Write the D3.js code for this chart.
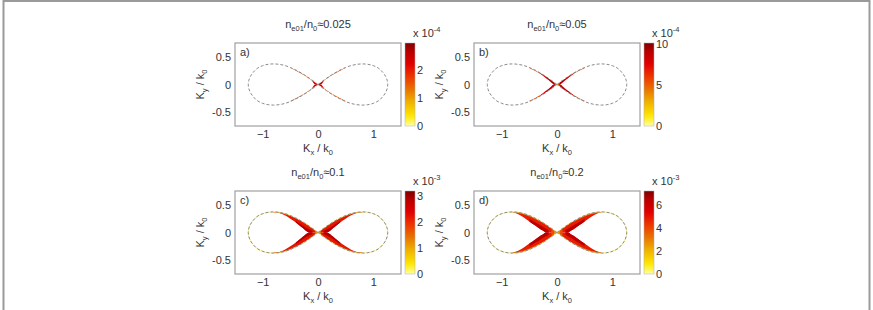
<!DOCTYPE html>
<html>
<head>
<meta charset="utf-8">
<script src="https://cdn.jsdelivr.net/npm/d3@7"></script>
<style>
body { margin: 0; background: #fff; }
svg text { font-family: "Liberation Sans", Arial, sans-serif; fill: #333; }
</style>
</head>
<body>
<svg id="fig" width="873" height="310"></svg>
<script>
// resonance curve, upper right quadrant (Kx/k0, Ky/k0)
var kx = [0, 0.025, 0.05, 0.1, 0.15, 0.2, 0.25, 0.3, 0.4, 0.5, 0.6, 0.7, 0.8, 0.9, 1.0, 1.1, 1.17, 1.22, 1.25, 1.26];
var ky = [0, 0.019, 0.038, 0.075, 0.11, 0.145, 0.177, 0.207, 0.262, 0.308, 0.343, 0.364, 0.372, 0.365, 0.34, 0.29, 0.22, 0.15, 0.075, 0];

var densities = ["0.025", "0.05", "0.1", "0.2"];
var letters = ["a)", "b)", "c)", "d)"];
var cbMax = [2.95, 10.1, 3.2, 7.2];
var cbExp = ["-4", "-4", "-3", "-3"];
var cbTicks = [[0, 1, 2], [0, 5, 10], [0, 1, 2, 3], [0, 2, 4, 6]];
var xTicks = [-1, 0, 1];
var yTicks = [-0.5, 0, 0.5];
// faint value under the dashed curve (null = none)
var rimValue = [null, null, 0.5, 1.2];

// growth-rate patches per panel: [value, lower edge, upper edge (null = curve)], aligned with kx
var heatA = [
  [1.6, [0, 0.007, 0.026, 0.063, 0.098, 0.133, 0.165, 0.195, 0.25, 0.296], null],
  [2.3, [0, 0, 0, 0.055], null],
  [2.7, [0, 0, 0.022], null]
];
var heatB = [
  [5.5, [0, 0.004, 0.023, 0.06, 0.095, 0.13, 0.162, 0.192, 0.247, 0.293], null],
  [7.8, [0, 0, 0, 0.03, 0.075, 0.115, 0.155, 0.193], null],
  [9.2, [0, 0, 0, 0.045, 0.09, 0.132], null],
  [3.5, [0, 0, 0.025], null]
];
var heatC = [
  [2.2, [0, 0, 0, 0, 0, 0.02, 0.06, 0.1, 0.18, 0.25, 0.31, 0.352, 0.368], null],
  [2.9, [null, null, null, 0, 0, 0.02, 0.06, 0.1, 0.18], [null, null, null, 0.03, 0.05, 0.075, 0.105, 0.14, 0.21]],
  [1.4, [null, null, null, null, null, null, null, null, 0.25, 0.296, 0.331, 0.352, 0.362], null],
  [1.3, [0, 0, 0], null],
  [0.6, [0, 0], null]
];
var heatD = [
  [4.8, [0, 0, 0, 0, 0, 0, 0.03, 0.06, 0.13, 0.2, 0.27, 0.33, 0.366], null],
  [6.4, [null, null, null, null, 0, 0, 0.03, 0.06, 0.13, 0.2], [null, null, null, null, 0.04, 0.07, 0.1, 0.13, 0.19, 0.25]],
  [3.2, [null, null, null, null, null, null, null, 0.192, 0.245, 0.29, 0.325, 0.348, 0.36], null],
  [3.8, [0, 0, 0, 0], null],
  [2.5, [0, 0, 0], null],
  [1.5, [0, 0], null]
];
var heat = [heatA, heatB, heatC, heatD];

var svg = d3.select("#fig");
var boxW = 166, boxH = 83;
var origins = [[235, 43], [474, 43], [235, 191], [474, 191]];

var cmap = d3.scaleLinear()
  .domain([0, 0.12, 0.3, 0.45, 0.6, 0.75, 0.9, 1])
  .range(["#ffffa0", "#ffe800", "#eeae00", "#e87000", "#ee3400", "#e00000", "#b80000", "#7e0000"])
  .clamp(true);

var defs = svg.append("defs");
defs.append("filter").attr("id", "soft")
  .attr("x", "-10%").attr("y", "-10%").attr("width", "120%").attr("height", "120%")
  .append("feGaussianBlur").attr("stdDeviation", 0.7);

var grad = defs.append("linearGradient").attr("id", "cbgrad")
  .attr("x1", 0).attr("y1", 1).attr("x2", 0).attr("y2", 0);
d3.range(0, 1.0001, 0.05).forEach(function (t) {
  grad.append("stop").attr("offset", t).attr("stop-color", cmap(t));
});

// outer frame
svg.append("rect").attr("x", 3.5).attr("y", 1).attr("width", 866).attr("height", 320)
  .attr("fill", "none").attr("stroke", "#9a9a9a").attr("stroke-width", 2);

var quads = [[1, 1], [1, -1], [-1, 1], [-1, -1]];

origins.forEach(function (o, p) {
  var x0 = o[0], y0 = o[1];
  var x = d3.scaleLinear().domain([-1.5, 1.5]).range([x0, x0 + boxW]);
  var y = d3.scaleLinear().domain([-0.75, 0.75]).range([y0 + boxH, y0]);
  var cx = x0 + boxW / 2;
  var g = svg.append("g");

  // one lobe: origin -> top arm -> tip -> bottom arm -> origin
  function lobe(sx) {
    var pts = kx.map(function (v, i) { return [sx * v, ky[i]]; });
    var back = kx.map(function (v, i) { return [sx * v, -ky[i]]; }).reverse();
    return pts.concat(back.slice(1));
  }
  var line = d3.line()
    .x(function (d) { return x(d[0]); })
    .y(function (d) { return y(d[1]); })
    .curve(d3.curveCatmullRom);

  var clipId = "clip" + p;
  var clip = defs.append("clipPath").attr("id", clipId);
  [1, -1].forEach(function (sx) {
    clip.append("path").attr("d", line(lobe(sx)) + "Z");
  });

  // heat patches
  var hg = g.append("g").attr("clip-path", "url(#" + clipId + ")")
    .append("g").attr("filter", "url(#soft)");
  heat[p].forEach(function (layer) {
    var val = layer[0], lo = layer[1], hi = layer[2];
    var idx = d3.range(lo.length).filter(function (i) { return lo[i] !== null; });
    quads.forEach(function (q) {
      var area = d3.area()
        .x(function (i) { return x(q[0] * kx[i]); })
        .y0(function (i) { return y(q[1] * lo[i]); })
        .y1(function (i) { return y(q[1] * (hi ? hi[i] : ky[i])); })
        .curve(d3.curveMonotoneX);
      var ordered = q[0] < 0 ? idx.slice().reverse() : idx;
      hg.append("path").attr("d", area(ordered))
        .attr("fill", cmap(val / cbMax[p]));
    });
  });

  // dashed curve
  [1, -1].forEach(function (sx) {
    if (rimValue[p] !== null) {
      g.append("path").attr("d", line(lobe(sx)))
        .attr("fill", "none").attr("stroke", cmap(rimValue[p] / cbMax[p]))
        .attr("stroke-width", 1).attr("opacity", 0.45);
    }
    g.append("path").attr("d", line(lobe(sx)))
      .attr("fill", "none").attr("stroke", "#8a8a8a")
      .attr("stroke-width", 1).attr("stroke-dasharray", "3,2");
  });

  // box
  g.append("rect").attr("x", x0).attr("y", y0).attr("width", boxW).attr("height", boxH)
    .attr("fill", "none").attr("stroke", "#a0a0a0").attr("stroke-width", 1.2);

  // axes
  var ax = g.append("g").attr("transform", "translate(0," + (y0 + boxH) + ")")
    .call(d3.axisBottom(x).tickValues(xTicks).tickSize(0).tickPadding(4).tickFormat(d3.format("d")));
  var ay = g.append("g").attr("transform", "translate(" + x0 + ",0)")
    .call(d3.axisLeft(y).tickValues(yTicks).tickSize(0).tickPadding(4).tickFormat(function (d) { return d === 0 ? "0" : String(d); }));
  [ax, ay].forEach(function (a) {
    a.select(".domain").remove();
    a.selectAll("text").attr("font-size", 11).attr("fill", "#333")
      .attr("font-family", "Liberation Sans, Arial, sans-serif");
  });

  // panel letter
  g.append("text").attr("x", x0 + 5).attr("y", y0 + 13).attr("font-size", 11).text(letters[p]);

  // title
  var t = g.append("text").attr("x", cx).attr("y", y0 - 15).attr("text-anchor", "middle").attr("font-size", 11);
  t.append("tspan").text("n");
  t.append("tspan").attr("font-size", 7.5).attr("dy", 3).text("e01");
  t.append("tspan").attr("dy", -3).text("/n");
  t.append("tspan").attr("font-size", 7.5).attr("dy", 3).text("0");
  t.append("tspan").attr("dy", -3).text("\u2248" + densities[p]);

  // x label
  var xl = g.append("text").attr("x", cx).attr("y", y0 + boxH + 26).attr("text-anchor", "middle").attr("font-size", 11);
  xl.append("tspan").text("K");
  xl.append("tspan").attr("font-size", 7.5).attr("dy", 3).text("x");
  xl.append("tspan").attr("dy", -3).text(" / k");
  xl.append("tspan").attr("font-size", 7.5).attr("dy", 3).text("0");

  // y label
  var yl = g.append("text").attr("transform", "translate(" + (x0 - 31) + "," + (y0 + boxH / 2) + ") rotate(-90)")
    .attr("text-anchor", "middle").attr("font-size", 11);
  yl.append("tspan").text("K");
  yl.append("tspan").attr("font-size", 7.5).attr("dy", 3).text("y");
  yl.append("tspan").attr("dy", -3).text(" / k");
  yl.append("tspan").attr("font-size", 7.5).attr("dy", 3).text("0");

  // colorbar
  var cbx = x0 + boxW + 4, cbw = 10;
  var cs = d3.scaleLinear().domain([0, cbMax[p]]).range([y0 + boxH, y0]);
  g.append("rect").attr("x", cbx).attr("y", y0).attr("width", cbw).attr("height", boxH)
    .attr("fill", "url(#cbgrad)").attr("stroke", "#b0b0b0").attr("stroke-width", 0.5);
  var ca = g.append("g").attr("transform", "translate(" + (cbx + cbw) + ",0)")
    .call(d3.axisRight(cs).tickValues(cbTicks[p]).tickSize(0).tickPadding(2).tickFormat(d3.format("d")));
  ca.select(".domain").remove();
  ca.selectAll("text").attr("font-size", 11).attr("fill", "#333")
    .attr("font-family", "Liberation Sans, Arial, sans-serif");
  var ex = g.append("text").attr("x", cbx + 8).attr("y", y0 - 6).attr("font-size", 11);
  ex.append("tspan").text("x 10");
  ex.append("tspan").attr("font-size", 7.5).attr("dy", -5).text(cbExp[p]);
});
</script>
</body>
</html>
